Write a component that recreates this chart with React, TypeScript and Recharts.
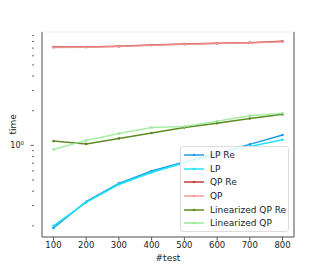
import { Label, Line, LineChart, XAxis, YAxis } from 'recharts';

const tests = [100, 200, 300, 400, 500, 600, 700, 800];

const lpRe = [0.192, 0.324, 0.468, 0.598, 0.716, 0.86, 1.02, 1.23];
const lp = [0.2, 0.32, 0.458, 0.582, 0.707, 0.83, 0.98, 1.12];
const qpRe = [7.16, 7.16, 7.26, 7.45, 7.6, 7.71, 7.81, 8.02];
const qp = [7.08, 7.12, 7.22, 7.42, 7.56, 7.68, 7.78, 7.96];
const linQpRe = [1.09, 1.03, 1.15, 1.28, 1.43, 1.56, 1.71, 1.86];
const linQp = [0.92, 1.105, 1.27, 1.43, 1.46, 1.62, 1.81, 1.9];

const xTicks = [100, 200, 300, 400, 500, 600, 700, 800];
const yTicks = [0.2, 0.3, 0.4, 0.5, 0.6, 0.7, 0.8, 0.9, 1, 2, 3, 4, 5, 6, 7, 8, 9];

const series = [
  { key: 'lpRe', name: 'LP Re', color: '#1c9ee6' },
  { key: 'lp', name: 'LP', color: '#22e4f4' },
  { key: 'qpRe', name: 'QP Re', color: '#c43a3a' },
  { key: 'qp', name: 'QP', color: '#f29a9a' },
  { key: 'linQpRe', name: 'Linearized QP Re', color: '#5f8a22' },
  { key: 'linQp', name: 'Linearized QP', color: '#98e898' },
];

const data = tests.map((t, i) => ({
  test: t,
  lpRe: lpRe[i],
  lp: lp[i],
  qpRe: qpRe[i],
  qp: qp[i],
  linQpRe: linQpRe[i],
  linQp: linQp[i],
}));

const font = 'DejaVu Sans, sans-serif';

function YTick(props: any) {
  const { x, y, payload } = props;
  const major = payload.value === 1;
  return (
    <g>
      <line x1={x} x2={major ? x - 3.5 : x - 2} y1={y} y2={y} stroke="#444" strokeWidth={0.8} />
      {major && (
        <text x={x - 10} y={y + 3} textAnchor="end" fontSize={8} fill="#222" fontFamily={font}>
          10
          <tspan dy={-3.5} fontSize={5.5}>0</tspan>
        </text>
      )}
    </g>
  );
}

function LegendBox() {
  return (
    <div
      style={{
        position: 'absolute',
        left: 180,
        top: 146,
        width: 109,
        height: 86,
        background: 'rgba(255,255,255,0.85)',
        border: '1px solid #ddd',
        borderRadius: 3,
        boxSizing: 'border-box',
        padding: '1px 0 0 2px',
        fontFamily: font,
        fontSize: 9,
        color: '#222',
      }}
    >
      {series.map((s) => (
        <div key={s.key} style={{ height: 13.7, display: 'flex', alignItems: 'center' }}>
          <svg width={27} height={8} style={{ flex: 'none' }}>
            <line x1={1} x2={21} y1={4} y2={4} stroke={s.color} strokeWidth={1.5} />
            <circle cx={11} cy={4} r={1.3} fill={s.color} />
          </svg>
          <span style={{ whiteSpace: 'nowrap' }}>{s.name}</span>
        </div>
      ))}
    </div>
  );
}

export default function App() {
  return (
    <div style={{ position: 'absolute', left: 0, top: 0, width: 327, height: 266, background: '#fff' }}>
      <LineChart width={327} height={266} data={data} margin={{ top: 32, right: 33, bottom: 0, left: 0 }}>
        <rect x={42} y={32} width={252} height={205} fill="none" stroke="#eee" strokeWidth={1} />
        <line x1={294} x2={294} y1={32} y2={237} stroke="#555" strokeWidth={1} />
        <XAxis
          dataKey="test"
          type="number"
          domain={[65, 835]}
          ticks={xTicks}
          height={29}
          stroke="#555"
          tickSize={3.5}
          tick={{ fontSize: 8.5, fill: '#222', fontFamily: font }}
          tickMargin={1}
        >
          <Label value="#test" position="insideBottom" offset={5} fontSize={9} fill="#222" fontFamily={font} />
        </XAxis>
        <YAxis
          scale="log"
          domain={[0.16, 9.66]}
          allowDataOverflow
          ticks={yTicks}
          width={42}
          stroke="#555"
          tickLine={false}
          tick={<YTick />}
          interval={0}
        >
          <Label value="time" angle={-90} position="insideLeft" offset={13} fontSize={9} fill="#222" fontFamily={font} />
        </YAxis>
        {series.map((s) => (
          <Line
            key={s.key}
            dataKey={s.key}
            name={s.name}
            stroke={s.color}
            strokeWidth={1.5}
            strokeOpacity={s.key === 'qp' || s.key === 'linQp' ? 0.85 : 1}
            type="linear"
            dot={{ r: 1.3, fill: s.color, stroke: 'none' }}
            activeDot={false}
            isAnimationActive={false}
          />
        ))}
      </LineChart>
      <LegendBox />
    </div>
  );
}
